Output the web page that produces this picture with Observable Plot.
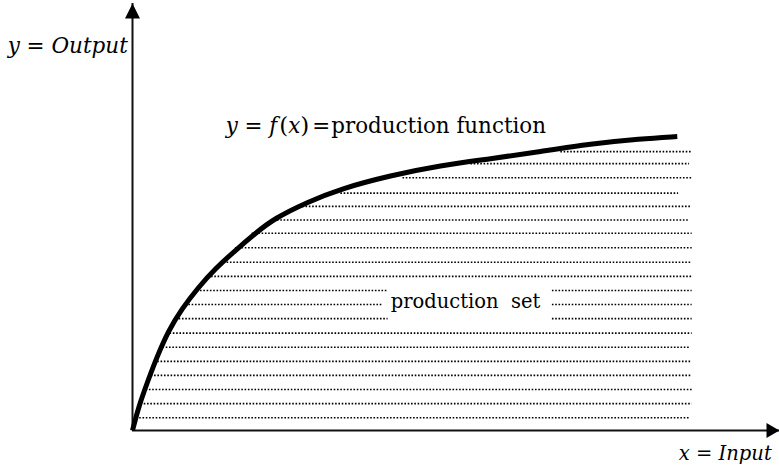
<!DOCTYPE html>
<html><head><meta charset="utf-8">
<script src="https://cdn.jsdelivr.net/npm/d3@7"></script>
<script src="https://cdn.jsdelivr.net/npm/@observablehq/plot@0.6"></script>
<style>html,body{margin:0;padding:0;background:#fff;}</style>
</head><body><div id="chart"></div>
<script>
// production function curve (Input, Output)
const curveX = [0, 0.93, 2.21, 3.76, 5.56, 7.62, 10.20, 12.78, 15.87, 19.21, 21.84, 27.00, 32.15, 39.88, 47.60, 55.33, 63.06, 70.79, 78.52, 84.2];
const curveY = [0, 5.46, 10.94, 17.17, 23.42, 28.50, 33.56, 37.87, 42.15, 46.44, 49.58, 53.47, 56.60, 59.72, 62.06, 63.63, 65.34, 67.14, 68.31, 68.85];

// dotted hatch lines of the production set
const hatchY     = [65.3, 62.5, 59.2, 55.6, 52.5, 49.3, 46.2, 42.8, 39.4, 36.1, 32.8, 29.5, 26.2, 22.8, 19.5, 16.2, 12.9, 9.6, 6.3, 3.0];
const hatchLeft  = [66.2, 52.3, 41.8, 32.2, 25.8, 21.9, 18.5, 15.9, 13.6, 11.7, 10.0, 8.2, 6.7, 5.8, 4.7, 3.9, 2.9, 2.1, 1.3, 0.6];
const hatchRight = [86.5, 86.1, 86.5, 84.4, 86.5, 85.9, 86.5, 86.5, 86.5, 86.5, 86.5, 86.5, 86.5, 86.5, 86.1, 86.5, 86.5, 86.5, 86.5, 86.2];
// lines interrupted by the "production set" label
const gapLines      = [10, 11, 12];
const gapLeftEnd    = [39.5, 38.7, 39.5];
const gapRightStart = [64.9, 64.9, 64.9];

// axes extent
const domainMax = 100;

// labels
const labelX = [14.4, -19.3, 98.8, 39.9];
const labelY = [69.6, 88.3, -7.0, 28.8];
const labelEnd = [false, false, true, false];
const labelParts = [
  [["y","i"],[" = ","n"],["f","i"],["(","p",2],["x","i"],[")","p"],["=","n",3],["production function","n",1]],
  [["y","i"],[" = ","n"],["Output","i"]],
  [["x","i"],[" = ","n"],["Input","i"]],
  [["production\u00a0 set","n"]]
];

// text styling: font sizes chosen so DejaVu Serif spans the widths of the original Times text
const labelFontSize = [21.4, 21.5, 19.5, 19.5];
const font = "DejaVu Serif, serif";

const curve = curveX.map((x, i) => ({x, y: curveY[i]}));
const segs = [];
hatchY.forEach((y, i) => {
  const g = gapLines.indexOf(i);
  if (g < 0) segs.push({y, x1: hatchLeft[i], x2: hatchRight[i]});
  else {
    segs.push({y, x1: hatchLeft[i], x2: gapLeftEnd[g]});
    segs.push({y, x1: gapRightStart[g], x2: hatchRight[i]});
  }
});
const labels = labelParts.map((p, i) => ({x: labelX[i], y: labelY[i], text: p.map(d => d[0]).join(""), end: labelEnd[i], parts: p, fs: labelFontSize[i]}));

const arrowUp = {draw(ctx) { ctx.moveTo(0, 0); ctx.lineTo(-7.5, 15); ctx.lineTo(7.5, 15); ctx.closePath(); }};
const arrowRight = {draw(ctx) { ctx.moveTo(0, 0); ctx.lineTo(-13, -7.5); ctx.lineTo(-13, 7.5); ctx.closePath(); }};

const svg = Plot.plot({
  width: 779, height: 466,
  marginLeft: 132, marginRight: 0, marginTop: 3, marginBottom: 36,
  x: {domain: [0, domainMax], axis: null},
  y: {domain: [0, domainMax], axis: null},
  style: {background: "#fff", overflow: "visible", fontFamily: font},
  marks: [
    Plot.ruleY(segs, {y: "y", x1: "x1", x2: "x2", stroke: "#000", strokeWidth: 1.6, strokeDasharray: "1.6,1.7"}),
    Plot.ruleX([0], {stroke: "#111", strokeWidth: 2}),
    Plot.ruleY([0], {stroke: "#111", strokeWidth: 2}),
    Plot.dot([{x: 0, y: domainMax}], {x: "x", y: "y", symbol: arrowUp, fill: "#000", stroke: "none"}),
    Plot.dot([{x: domainMax, y: 0}], {x: "x", y: "y", symbol: arrowRight, fill: "#000", stroke: "none"}),
    Plot.line(curve, {x: "x", y: "y", curve: "basis", stroke: "#000", strokeWidth: 5, strokeLinecap: "butt"}),
    Plot.text(labels.filter(d => !d.end), {x: "x", y: "y", text: "text", textAnchor: "start", lineAnchor: "bottom", fontSize: d => d.fs, fill: "#000", fontFamily: font}),
    Plot.text(labels.filter(d => d.end), {x: "x", y: "y", text: "text", textAnchor: "end", lineAnchor: "bottom", fontSize: d => d.fs, fill: "#000", fontFamily: font})
  ]
});

// style parts of each label (italic math symbols)
const byText = new Map(labels.map(d => [d.text, d]));
svg.querySelectorAll("text").forEach(t => {
  const d = byText.get(t.textContent);
  if (!d) return;
  t.textContent = "";
  for (const [s, st, dx] of d.parts) {
    const ts = document.createElementNS("http://www.w3.org/2000/svg", "tspan");
    ts.textContent = s;
    if (st === "i") ts.setAttribute("font-style", "italic");
    if (st === "p") ts.setAttribute("font-size", "1.08em");
    if (dx) ts.setAttribute("dx", dx);
    t.appendChild(ts);
  }
});
document.getElementById("chart").appendChild(svg);
</script>
</body></html>
